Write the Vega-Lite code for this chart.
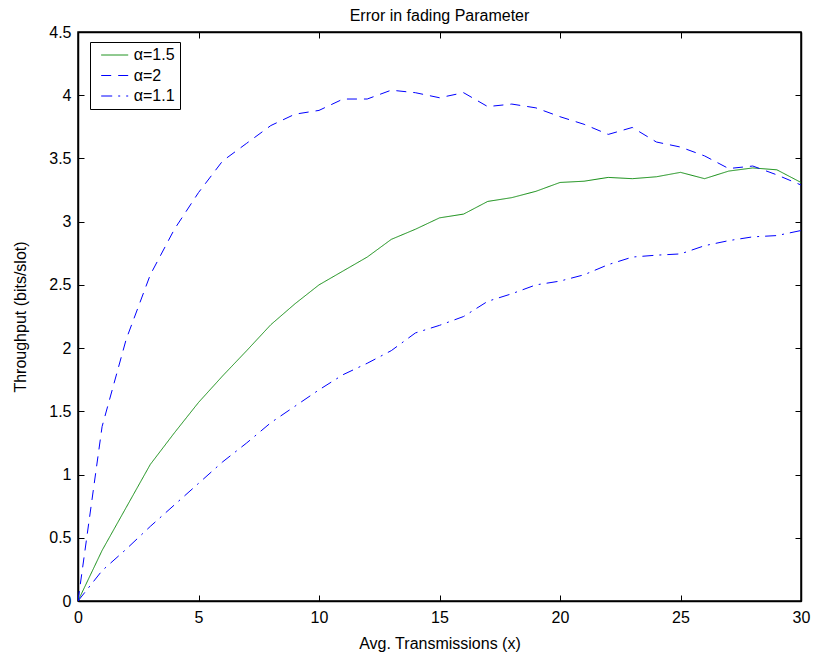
{
  "$schema": "https://vega.github.io/schema/vega-lite/v6.json",
  "width": 723,
  "height": 569,
  "autosize": "none",
  "padding": {"left": 78, "top": 32, "right": 12, "bottom": 54},
  "background": "white",
  "title": {
    "text": "Error in fading Parameter",
    "font": "Liberation Sans",
    "fontSize": 16,
    "fontWeight": "normal",
    "color": "black",
    "offset": 0
  },
  "config": {
    "view": {"stroke": "black", "strokeWidth": 1.5},
    "font": "Liberation Sans",
    "axis": {
      "grid": false,
      "domainColor": "black",
      "domainWidth": 1.5,
      "tickColor": "black",
      "tickWidth": 1,
      "tickSize": -6,
      "labelFlush": false,
      "labelFont": "Liberation Sans",
      "labelFontSize": 16,
      "labelColor": "black",
      "titleFont": "Liberation Sans",
      "titleFontSize": 16,
      "titleFontWeight": "normal",
      "titleColor": "black"
    },
    "legend": {
      "orient": "none",
      "legendX": 12,
      "legendY": 10,
      "direction": "vertical",
      "symbolType": "M-2.25,0H2.25",
      "symbolSize": 144,
      "symbolStrokeWidth": 1,
      "symbolOffset": 11.7,
      "labelFont": "Liberation Sans",
      "labelFontSize": 16,
      "labelColor": "black",
      "labelOffset": 11,
      "rowPadding": 4.5,
      "padding": 5,
      "strokeColor": "black",
      "fillColor": "white",
      "cornerRadius": 0
    }
  },
  "data": {
    "values": [
      {"x": 0, "series": "α=1.5", "y": 0},
      {"x": 1, "series": "α=1.5", "y": 0.40},
      {"x": 2, "series": "α=1.5", "y": 0.74},
      {"x": 3, "series": "α=1.5", "y": 1.08},
      {"x": 4, "series": "α=1.5", "y": 1.33},
      {"x": 5, "series": "α=1.5", "y": 1.57},
      {"x": 6, "series": "α=1.5", "y": 1.78},
      {"x": 7, "series": "α=1.5", "y": 1.98},
      {"x": 8, "series": "α=1.5", "y": 2.185},
      {"x": 9, "series": "α=1.5", "y": 2.35},
      {"x": 10, "series": "α=1.5", "y": 2.50},
      {"x": 11, "series": "α=1.5", "y": 2.61},
      {"x": 12, "series": "α=1.5", "y": 2.72},
      {"x": 13, "series": "α=1.5", "y": 2.86},
      {"x": 14, "series": "α=1.5", "y": 2.94},
      {"x": 15, "series": "α=1.5", "y": 3.03},
      {"x": 16, "series": "α=1.5", "y": 3.06},
      {"x": 17, "series": "α=1.5", "y": 3.16},
      {"x": 18, "series": "α=1.5", "y": 3.19},
      {"x": 19, "series": "α=1.5", "y": 3.24},
      {"x": 20, "series": "α=1.5", "y": 3.31},
      {"x": 21, "series": "α=1.5", "y": 3.32},
      {"x": 22, "series": "α=1.5", "y": 3.35},
      {"x": 23, "series": "α=1.5", "y": 3.34},
      {"x": 24, "series": "α=1.5", "y": 3.355},
      {"x": 25, "series": "α=1.5", "y": 3.39},
      {"x": 26, "series": "α=1.5", "y": 3.34},
      {"x": 27, "series": "α=1.5", "y": 3.40},
      {"x": 28, "series": "α=1.5", "y": 3.425},
      {"x": 29, "series": "α=1.5", "y": 3.41},
      {"x": 30, "series": "α=1.5", "y": 3.31},

      {"x": 0, "series": "α=2", "y": 0},
      {"x": 1, "series": "α=2", "y": 1.38},
      {"x": 2, "series": "α=2", "y": 2.07},
      {"x": 3, "series": "α=2", "y": 2.58},
      {"x": 4, "series": "α=2", "y": 2.94},
      {"x": 5, "series": "α=2", "y": 3.23},
      {"x": 6, "series": "α=2", "y": 3.48},
      {"x": 7, "series": "α=2", "y": 3.62},
      {"x": 8, "series": "α=2", "y": 3.76},
      {"x": 9, "series": "α=2", "y": 3.85},
      {"x": 10, "series": "α=2", "y": 3.88},
      {"x": 11, "series": "α=2", "y": 3.97},
      {"x": 12, "series": "α=2", "y": 3.97},
      {"x": 13, "series": "α=2", "y": 4.04},
      {"x": 14, "series": "α=2", "y": 4.02},
      {"x": 15, "series": "α=2", "y": 3.98},
      {"x": 16, "series": "α=2", "y": 4.02},
      {"x": 17, "series": "α=2", "y": 3.91},
      {"x": 18, "series": "α=2", "y": 3.93},
      {"x": 19, "series": "α=2", "y": 3.90},
      {"x": 20, "series": "α=2", "y": 3.83},
      {"x": 21, "series": "α=2", "y": 3.77},
      {"x": 22, "series": "α=2", "y": 3.69},
      {"x": 23, "series": "α=2", "y": 3.745},
      {"x": 24, "series": "α=2", "y": 3.63},
      {"x": 25, "series": "α=2", "y": 3.59},
      {"x": 26, "series": "α=2", "y": 3.52},
      {"x": 27, "series": "α=2", "y": 3.42},
      {"x": 28, "series": "α=2", "y": 3.44},
      {"x": 29, "series": "α=2", "y": 3.37},
      {"x": 30, "series": "α=2", "y": 3.29},

      {"x": 0, "series": "α=1.1", "y": 0},
      {"x": 1, "series": "α=1.1", "y": 0.24},
      {"x": 2, "series": "α=1.1", "y": 0.41},
      {"x": 3, "series": "α=1.1", "y": 0.59},
      {"x": 4, "series": "α=1.1", "y": 0.76},
      {"x": 5, "series": "α=1.1", "y": 0.93},
      {"x": 6, "series": "α=1.1", "y": 1.10},
      {"x": 7, "series": "α=1.1", "y": 1.25},
      {"x": 8, "series": "α=1.1", "y": 1.41},
      {"x": 9, "series": "α=1.1", "y": 1.54},
      {"x": 10, "series": "α=1.1", "y": 1.67},
      {"x": 11, "series": "α=1.1", "y": 1.79},
      {"x": 12, "series": "α=1.1", "y": 1.88},
      {"x": 13, "series": "α=1.1", "y": 1.98},
      {"x": 14, "series": "α=1.1", "y": 2.12},
      {"x": 15, "series": "α=1.1", "y": 2.18},
      {"x": 16, "series": "α=1.1", "y": 2.25},
      {"x": 17, "series": "α=1.1", "y": 2.37},
      {"x": 18, "series": "α=1.1", "y": 2.43},
      {"x": 19, "series": "α=1.1", "y": 2.50},
      {"x": 20, "series": "α=1.1", "y": 2.53},
      {"x": 21, "series": "α=1.1", "y": 2.58},
      {"x": 22, "series": "α=1.1", "y": 2.66},
      {"x": 23, "series": "α=1.1", "y": 2.72},
      {"x": 24, "series": "α=1.1", "y": 2.735},
      {"x": 25, "series": "α=1.1", "y": 2.745},
      {"x": 26, "series": "α=1.1", "y": 2.81},
      {"x": 27, "series": "α=1.1", "y": 2.85},
      {"x": 28, "series": "α=1.1", "y": 2.88},
      {"x": 29, "series": "α=1.1", "y": 2.89},
      {"x": 30, "series": "α=1.1", "y": 2.93}
    ]
  },
  "layer": [
    {
      "mark": {"type": "line", "strokeWidth": 1, "clip": true},
      "encoding": {
        "x": {
          "field": "x",
          "type": "quantitative",
          "scale": {"domain": [0, 30], "nice": false, "zero": false},
          "axis": {
            "orient": "bottom",
            "values": [0, 5, 10, 15, 20, 25, 30],
            "format": "~g",
            "labelPadding": 14,
            "title": "Avg. Transmissions (x)",
            "titlePadding": 10
          }
        },
        "y": {
          "field": "y",
          "type": "quantitative",
          "scale": {"domain": [0, 4.5], "nice": false, "zero": false},
          "axis": {
            "orient": "left",
            "values": [0, 0.5, 1, 1.5, 2, 2.5, 3, 3.5, 4, 4.5],
            "format": "~g",
            "labelPadding": 13,
            "title": "Throughput (bits/slot)",
            "titlePadding": 20
          }
        },
        "color": {
          "field": "series",
          "type": "nominal",
          "scale": {
            "domain": ["α=1.5", "α=2", "α=1.1"],
            "range": ["#108c10", "#0000ff", "#0000ff"]
          },
          "legend": {"title": null}
        },
        "strokeDash": {
          "field": "series",
          "type": "nominal",
          "scale": {
            "domain": ["α=1.5", "α=2", "α=1.1"],
            "range": [[1, 0], [10, 7], [11, 6, 2, 6]]
          },
          "legend": {"title": null}
        }
      }
    },
    {
      "mark": {"type": "line", "strokeOpacity": 0},
      "encoding": {
        "x": {
          "field": "x",
          "type": "quantitative",
          "axis": {
            "orient": "top",
            "values": [0, 5, 10, 15, 20, 25, 30],
            "labels": false,
            "title": null
          }
        },
        "y": {
          "field": "y",
          "type": "quantitative",
          "axis": {
            "orient": "right",
            "values": [0, 0.5, 1, 1.5, 2, 2.5, 3, 3.5, 4, 4.5],
            "labels": false,
            "title": null
          }
        },
        "detail": {"field": "series", "type": "nominal"}
      }
    }
  ],
  "resolve": {"axis": {"x": "independent", "y": "independent"}}
}
